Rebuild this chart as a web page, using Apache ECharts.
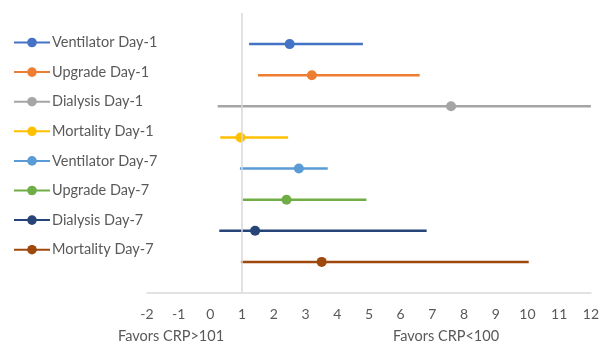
<!DOCTYPE html>
<html>
<head>
<meta charset="utf-8">
<script src="https://cdn.jsdelivr.net/npm/echarts@6/dist/echarts.min.js"></script>
<style>html,body{margin:0;padding:0;background:#fff}#c{width:602px;height:347px}</style>
</head>
<body>
<div id="c"></div>
<script>
var names = ['Ventilator Day-1','Upgrade Day-1','Dialysis Day-1','Mortality Day-1','Ventilator Day-7','Upgrade Day-7','Dialysis Day-7','Mortality Day-7'];
var lower = [1.22, 1.5, 0.23, 0.31, 0.93, 1.02, 0.28, 0.96];
var point = [2.5, 3.2, 7.59, 0.95, 2.79, 2.4, 1.41, 3.51];
var upper = [4.81, 6.6, 12, 2.45, 3.7, 4.92, 6.82, 10.04];
var rowPos = [8, 7, 6, 5, 4, 3, 2, 1];
var colors = ['#4472C4','#ED7D31','#A5A5A5','#FFC000','#5B9BD5','#70AD47','#264478','#9E480E'];
var xTicks = [-2, 12];
var refLine = 1;
var axisNotes = ['Favors CRP>101', 'Favors CRP<100'];

var FONT = 'Lato';
var series = names.map(function (n, i) {
  return {
    name: n, type: 'line', symbol: 'circle', symbolSize: 10,
    lineStyle: { width: 2.5, color: colors[i] },
    itemStyle: { color: colors[i] },
    z: 3,
    data: [
      { value: [lower[i], rowPos[i]], symbol: 'none' },
      { value: [point[i], rowPos[i]] },
      { value: [upper[i], rowPos[i]], symbol: 'none' }
    ],
    animation: false
  };
});
series.push({
  type: 'line', data: [], silent: true,
  markLine: {
    symbol: 'none', silent: true, animation: false,
    label: { show: false },
    lineStyle: { color: '#d9d9d9', width: 1.5, type: 'solid' },
    data: [{ xAxis: refLine }]
  }
});

var chart = echarts.init(document.getElementById('c'));
chart.setOption({
  animation: false,
  grid: { left: 147, right: 7, top: 13, bottom: 54 },
  legend: {
    orient: 'vertical', left: 8, top: 30, itemGap: 14.6,
    itemWidth: 36, itemHeight: 12,
    data: names,
    textStyle: { color: '#595959', fontSize: 14.5, lineHeight: 15, fontFamily: FONT, padding: [0, 0, 0, -3] }
  },
  xAxis: {
    type: 'value', min: xTicks[0], max: xTicks[1], interval: 1,
    axisLine: { show: true, lineStyle: { color: '#d9d9d9', width: 1.5 } },
    axisTick: { show: false },
    splitLine: { show: false },
    axisLabel: { color: '#595959', fontSize: 14, fontFamily: FONT, margin: 14 }
  },
  yAxis: { type: 'value', min: 0, max: 9, show: false },
  graphic: [
    { type: 'text', left: 118, top: 329, style: { text: axisNotes[0], fill: '#595959', font: '14.5px ' + FONT } },
    { type: 'text', left: 393, top: 329, style: { text: axisNotes[1], fill: '#595959', font: '14.5px ' + FONT } }
  ],
  series: series
});
</script>
</body>
</html>
